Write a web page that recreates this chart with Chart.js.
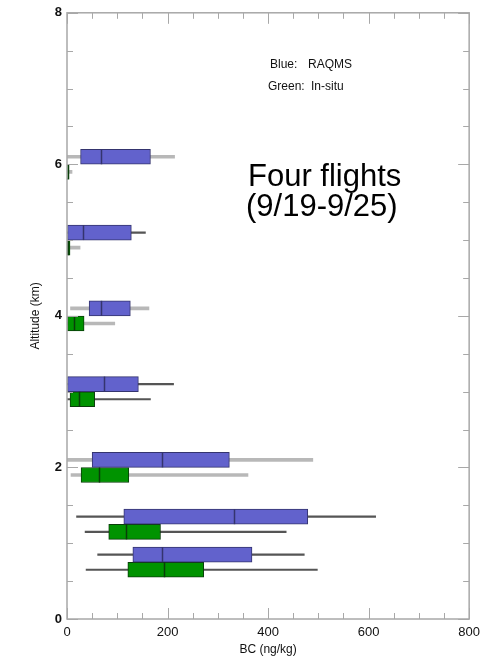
<!DOCTYPE html>
<html>
<head>
<meta charset="utf-8">
<script src="https://cdn.jsdelivr.net/npm/chart.js@4.4.1/dist/chart.umd.min.js"></script>
<style>
  html, body { margin: 0; padding: 0; background: #fff; }
  #wrap { width: 486px; height: 662px; position: relative; }
</style>
</head>
<body>
<div id="wrap"><canvas id="c" width="486" height="662"></canvas></div>
<script>
// Altitude (km) at which each box is drawn
const blueAlt  = [6.1, 5.1, 4.1, 3.1, 2.1, 1.35, 0.85];
const greenAlt = [5.9, 4.9, 3.9, 2.9, 1.9, 1.15, 0.65];

// RAQMS BC statistics (ng/kg)
const blueMin = [0, 0, 7, 0, 0, 19, 61];
const blueQ1  = [27, 1, 44, 1, 50, 113, 131];
const blueMed = [67, 32, 67, 73, 189, 333, 189];
const blueQ3  = [166, 128, 126, 142, 323, 479, 368];
const blueMax = [214, 156, 163, 212, 489, 614, 472];

// In-situ BC statistics (ng/kg)
const greenMin = [0, 0, 0, 0, 8, 36, 38];
const greenQ1  = [0, 0, 1, 6, 28, 83, 121];
const greenMed = [1, 2, 14, 24, 63, 118, 193];
const greenQ3  = [2, 6, 34, 55, 123, 186, 272];
const greenMax = [10, 26, 95, 166, 360, 436, 498];

// Axis ranges and labelled ticks
const xMin = 0, xMax = 800, xStep = 50;
const xLabelled = [0, 200, 400, 600, 800];
const yMin = 0, yMax = 8, yStep = 0.5;
const yLabelled = [0, 2, 4, 6, 8];

// Whisker style per box: light wide grey or thin dark grey
const blueWhiskerLight  = [true, false, true, false, true, false, false];
const greenWhiskerLight = [true, true, true, false, true, false, false];

const BOX_H = 15;
const FONT = '"Liberation Sans", Arial, Helvetica, sans-serif';

function boxData(alt, lo, hi) {
  return alt.map((a, i) => ({ y: a, x: [lo[i], hi[i]] }));
}
function whiskerData(alt, lo, hi, flags, want) {
  const out = [];
  alt.forEach((a, i) => { if (flags[i] === want) out.push({ y: a, x: [lo[i], hi[i]] }); });
  return out;
}

const datasets = [
  { label: 'RAQMS', data: boxData(blueAlt, blueQ1, blueQ3), backgroundColor: '#6262cc',
    borderColor: '#34346e', borderWidth: 1, borderSkipped: false, barThickness: BOX_H, grouped: false, order: 0 },
  { label: 'In-situ', data: boxData(greenAlt, greenQ1, greenQ3), backgroundColor: '#009300',
    borderColor: '#0a3d0a', borderWidth: 1, borderSkipped: false, barThickness: BOX_H, grouped: false, order: 0 },
  { label: 'w1', data: whiskerData(blueAlt, blueMin, blueMax, blueWhiskerLight, true).concat(
      whiskerData(greenAlt, greenMin, greenMax, greenWhiskerLight, true)),
    backgroundColor: '#b8b8b8', borderWidth: 0, barThickness: 3, grouped: false, order: 1 },
  { label: 'w2', data: whiskerData(blueAlt, blueMin, blueMax, blueWhiskerLight, false).concat(
      whiskerData(greenAlt, greenMin, greenMax, greenWhiskerLight, false)),
    backgroundColor: '#555555', borderWidth: 0, barThickness: 1.5, grouped: false, order: 1 }
];

// Median lines across each box
const medianPlugin = {
  id: 'medians',
  afterDatasetsDraw(chart) {
    const { ctx, scales: { x, y } } = chart;
    ctx.save();
    ctx.lineWidth = 1.5;
    const draw = (alt, med, color) => {
      ctx.strokeStyle = color;
      alt.forEach((a, i) => {
        const px = Math.round(x.getPixelForValue(med[i])) + 0.5;
        const py = y.getPixelForValue(a);
        ctx.beginPath();
        ctx.moveTo(px, py - BOX_H / 2);
        ctx.lineTo(px, py + BOX_H / 2);
        ctx.stroke();
      });
    };
    draw(blueAlt, blueMed, '#34346e');
    draw(greenAlt, greenMed, '#0a3d0a');
    ctx.restore();
  }
};

// Plot frame with inward tick marks on all four sides
const framePlugin = {
  id: 'frame',
  afterDatasetsDraw(chart) {
    const { ctx, chartArea: a, scales: { x, y } } = chart;
    ctx.save();
    ctx.strokeStyle = '#a8a8a8';
    ctx.lineWidth = 1.5;
    ctx.strokeRect(a.left, a.top, a.right - a.left, a.bottom - a.top);
    ctx.lineWidth = 1;
    ctx.beginPath();
    x.ticks.forEach(t => {
      const px = Math.round(x.getPixelForValue(t.value)) + 0.5;
      const len = xLabelled.includes(t.value) ? 11 : 6;
      ctx.moveTo(px, a.bottom); ctx.lineTo(px, a.bottom - len);
      ctx.moveTo(px, a.top); ctx.lineTo(px, a.top + len);
    });
    y.ticks.forEach(t => {
      const py = Math.round(y.getPixelForValue(t.value)) + 0.5;
      const len = yLabelled.includes(t.value) ? 11 : 6;
      ctx.moveTo(a.left, py); ctx.lineTo(a.left + len, py);
      ctx.moveTo(a.right, py); ctx.lineTo(a.right - len, py);
    });
    ctx.stroke();
    ctx.restore();
  }
};

// Key and flight annotation text
const textPlugin = {
  id: 'notes',
  afterDraw(chart) {
    const { ctx } = chart;
    ctx.save();
    ctx.fillStyle = '#111';
    ctx.textBaseline = 'alphabetic';
    ctx.font = '12px ' + FONT;
    ctx.fillText('Blue:', 270, 68);
    ctx.fillText('RAQMS', 308, 68);
    ctx.fillText('Green:', 268, 90);
    ctx.fillText('In-situ', 311, 90);
    ctx.font = '31px ' + FONT;
    ctx.fillStyle = '#000';
    ctx.fillText('Four flights', 248, 186);
    ctx.fillText('(9/19-9/25)', 246, 216);
    ctx.restore();
  }
};

new Chart(document.getElementById('c'), {
  type: 'bar',
  data: { datasets },
  options: {
    indexAxis: 'y',
    responsive: false,
    animation: false,
    devicePixelRatio: 1,
    layout: { padding: { top: 10, right: 15, left: 0, bottom: 0 } },
    plugins: { legend: { display: false }, tooltip: { enabled: false } },
    scales: {
      x: {
        type: 'linear', min: xMin, max: xMax,
        grid: { display: false, drawTicks: false },
        border: { display: false },
        ticks: {
          stepSize: xStep, autoSkip: false, maxRotation: 0, padding: 6,
          color: '#111', font: { family: FONT, size: 13 },
          callback: v => xLabelled.includes(v) ? String(v) : ''
        },
        title: { display: true, text: 'BC (ng/kg)', color: '#111',
          font: { family: FONT, size: 12 }, padding: { top: 2, bottom: 5 } },
        afterFit(s) { s.height = 43; }
      },
      y: {
        type: 'linear', min: yMin, max: yMax, offset: false,
        grid: { display: false, drawTicks: false },
        border: { display: false },
        ticks: {
          stepSize: yStep, autoSkip: false, padding: 5,
          color: '#111', font: { family: FONT, size: 13, weight: 'bold' },
          callback: v => yLabelled.includes(v) ? String(v) : ''
        },
        title: { display: true, text: 'Altitude (km)', color: '#111',
          font: { family: FONT, size: 12 }, padding: { top: 28, bottom: 28 } },
        afterFit(s) { s.width = 67; }
      }
    }
  },
  plugins: [medianPlugin, framePlugin, textPlugin]
});
</script>
</body>
</html>
